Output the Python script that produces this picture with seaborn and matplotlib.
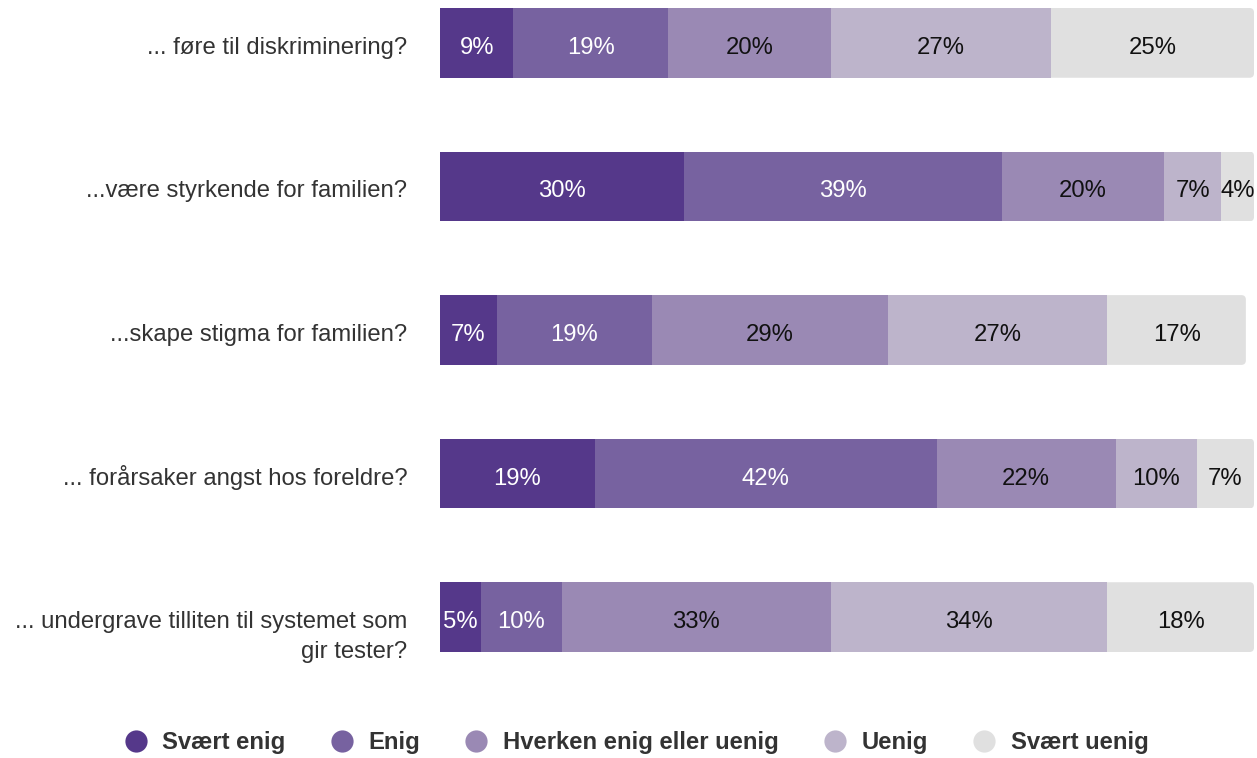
import numpy as np
import pandas as pd
import matplotlib
matplotlib.use("Agg")
import matplotlib.pyplot as plt
import matplotlib.transforms as mtransforms
import seaborn as sns
from matplotlib.patches import FancyBboxPatch
from matplotlib.lines import Line2D

# Survey statements and response shares (%)
statements = [
    "... føre til diskriminering?",
    "...være styrkende for familien?",
    "...skape stigma for familien?",
    "... forårsaker angst hos foreldre?",
    "... undergrave tilliten til systemet som\ngir tester?",
]
responses = ["Svært enig", "Enig", "Hverken enig eller uenig", "Uenig", "Svært uenig"]
svaert_enig = [9, 30, 7, 19, 5]
enig = [19, 39, 19, 42, 10]
hverken = [20, 20, 29, 22, 33]
uenig = [27, 7, 27, 10, 34]
svaert_uenig = [25, 4, 17, 7, 18]

colors = ["#55388a", "#7762a0", "#9a89b4", "#bdb4cb", "#e0e0e0"]
text_colors = ["white", "white", "#111111", "#111111", "#111111"]

sns.set_theme(style="white")
plt.rcParams["font.family"] = ["Liberation Sans", "DejaVu Sans"]

FS = 17.2

df = pd.DataFrame(
    {"statement": statements,
     responses[0]: svaert_enig,
     responses[1]: enig,
     responses[2]: hverken,
     responses[3]: uenig,
     responses[4]: svaert_uenig}
)
vals = df[responses].to_numpy(dtype=float)
cum = np.cumsum(vals, axis=1)

fig = plt.figure(figsize=(12.57, 7.58), dpi=100)
ax = fig.add_axes([440 / 1257, 1 - 652 / 758, (1254 - 440) / 1257, (652 - 8) / 758])

bar_h = 0.486
# Stacked bars: draw cumulative totals from the outermost segment inwards
for j in range(len(responses) - 1, -1, -1):
    sns.barplot(x=cum[:, j], y=df["statement"], orient="h", color=colors[j],
                width=bar_h, saturation=1, ax=ax, linewidth=0, zorder=2 + (4 - j))

ax.set_xlim(0, 100)
ax.set_ylim(4 + bar_h / 2, -bar_h / 2)

# Round the right end of each full bar
fig.canvas.draw()
x_px = ax.transData.transform((1, 0))[0] - ax.transData.transform((0, 0))[0]
y_px = abs(ax.transData.transform((0, 1))[1] - ax.transData.transform((0, 0))[1])
outer = ax.containers[0]
for rect in outer.patches:
    clip = FancyBboxPatch((rect.get_x(), rect.get_y()), rect.get_width(), rect.get_height(),
                          boxstyle="round,pad=0,rounding_size=%f" % (4.5 / x_px),
                          mutation_aspect=x_px / y_px, transform=ax.transData)
    rect.set_clip_path(clip)

# Text baselines sit a little below each bar's centre line
drop = mtransforms.ScaledTranslation(0, -0.11, fig.dpi_scale_trans)

# Segment value labels
for i in range(len(statements)):
    for j in range(len(responses)):
        v = vals[i, j]
        center = cum[i, j] - v / 2
        ax.text(center, i, f"{int(v)}%", ha="center", va="baseline",
                fontsize=FS, color=text_colors[j], zorder=20,
                transform=ax.transData + drop)

# Statement labels to the left of the bars; the first line of each label
# shares the baseline of the bar's value labels
line_step = 0.295
for i, s in enumerate(statements):
    extra = s.count("\n") * line_step
    label_tr = (mtransforms.blended_transform_factory(ax.transAxes, ax.transData)
                + mtransforms.ScaledTranslation(-0.325, -0.11 - extra, fig.dpi_scale_trans))
    ax.text(0, i, s, ha="right", va="baseline", fontsize=FS, color="#333333",
            linespacing=1.44, transform=label_tr, clip_on=False)

ax.set_xlabel("")
ax.set_ylabel("")
ax.set_xticks([])
ax.set_yticks([])
for s in ax.spines.values():
    s.set_visible(False)

# Legend along the bottom
handles = [Line2D([0], [0], marker="o", linestyle="", markersize=16,
                  markerfacecolor=c, markeredgewidth=0) for c in colors]
leg = fig.legend(handles, responses, loc="center", bbox_to_anchor=(0.506, 1 - 743 / 758),
                 ncol=5, frameon=False, handlelength=1.0, handletextpad=0.6,
                 columnspacing=1.87, prop={"weight": "bold", "size": FS})
for t in leg.get_texts():
    t.set_color("#333333")

fig.savefig("out.png", dpi=100)
